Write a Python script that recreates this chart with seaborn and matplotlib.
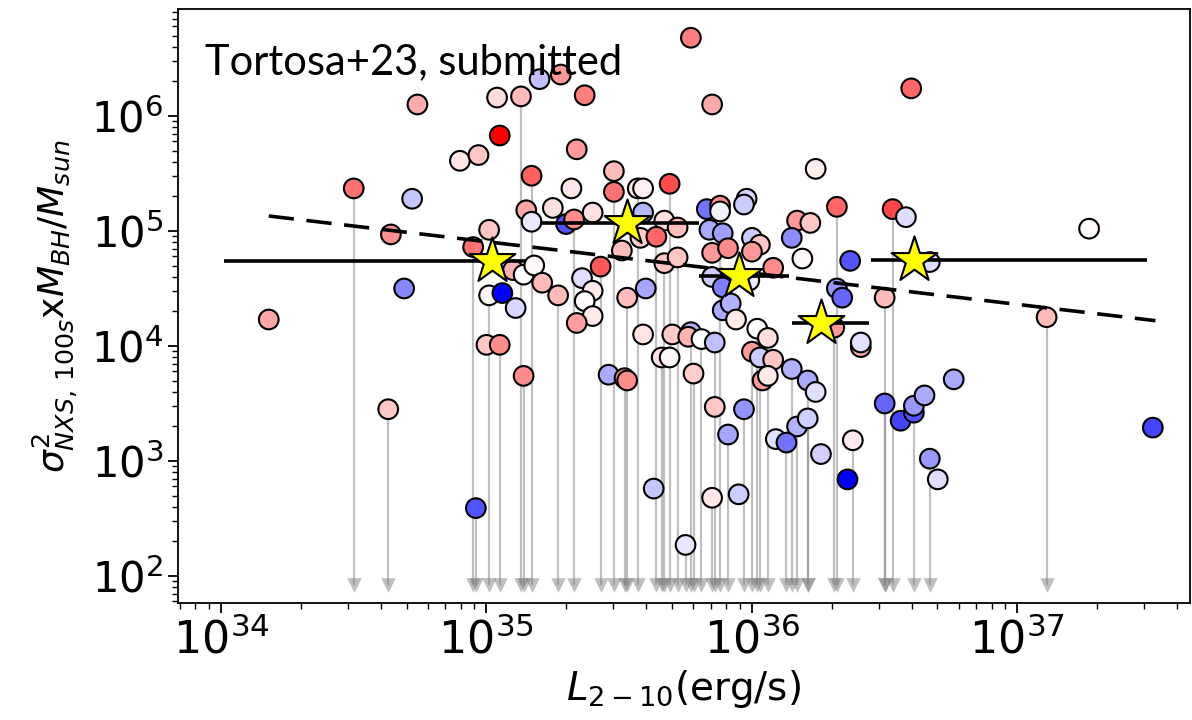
import numpy as np
import pandas as pd
import matplotlib
matplotlib.use("Agg")
import matplotlib.pyplot as plt
import seaborn as sns

# ---- data (log10 values) ----
logL = [34.18, 34.50, 34.63, 34.72, 34.74, 34.69, 34.64, 34.90, 34.97, 35.04,
        35.05, 35.01, 34.95, 35.01, 35.06, 35.11, 34.96, 35.00, 35.05, 35.10,
        35.14, 35.18, 35.13, 35.17, 35.15, 35.17, 35.20, 35.28, 35.37, 35.34,
        35.25, 35.30, 35.33, 35.40, 35.32, 35.48, 35.48, 35.57, 35.59, 35.69,
        35.59, 35.67, 35.72, 35.21, 35.27, 35.36, 35.43, 35.40, 35.37, 35.40,
        35.34, 35.14, 35.51, 35.58, 35.64, 35.53, 35.60, 35.59, 35.67, 35.72,
        35.46, 35.52, 35.53, 35.66, 35.69, 35.70, 35.77, 35.76, 35.81, 35.86,
        35.78, 35.63, 35.75, 35.85, 35.95, 35.86, 35.91, 35.97, 35.77, 35.85,
        35.83, 35.88, 35.88, 35.98, 35.97, 35.84, 35.89, 36.00, 36.03, 36.00,
        35.85, 35.91, 36.08, 35.85, 35.99, 35.89, 35.89, 35.92, 35.94, 36.02,
        36.06, 36.00, 36.03, 36.08, 36.04, 36.06, 36.15, 36.21, 36.24, 36.17,
        36.21, 36.09, 36.13, 36.26, 36.38, 36.36, 36.24, 36.17, 36.22, 36.15,
        36.19, 36.32, 36.37, 36.32, 36.34, 36.31, 36.41, 36.41, 36.60, 36.53,
        36.58, 36.67, 36.50, 36.50, 36.56, 36.61, 36.61, 36.65, 36.76, 36.67,
        36.70, 37.11, 37.27, 37.51]
logS = [4.23, 5.37, 3.45, 5.28, 6.10, 4.50, 4.97, 5.61, 5.66, 6.16,
        5.83, 5.01, 4.86, 4.44, 4.46, 4.33, 2.59, 4.01, 4.01, 4.66,
        4.62, 4.70, 6.17, 5.48, 5.18, 5.08, 6.32, 6.36, 6.18, 5.71,
        5.20, 5.06, 5.10, 5.16, 5.37, 5.52, 5.34, 5.37, 5.37, 5.41,
        5.16, 5.09, 5.03, 4.55, 4.44, 4.59, 4.69, 4.48, 4.39, 4.26,
        4.20, 3.74, 4.83, 4.94, 4.95, 4.42, 4.50, 4.10, 4.72, 4.77,
        3.75, 3.72, 3.70, 3.90, 3.90, 4.10, 4.12, 4.08, 4.06, 4.03,
        3.76, 2.76, 2.27, 2.68, 2.71, 3.47, 3.23, 3.45, 6.68, 6.10,
        5.19, 5.22, 5.17, 5.28, 5.23, 5.01, 4.98, 4.94, 4.88, 4.82,
        4.81, 4.85, 4.68, 4.60, 4.57, 4.51, 4.31, 4.37, 4.23, 4.15,
        4.07, 3.95, 3.90, 3.88, 3.70, 3.74, 3.80, 3.70, 3.60, 3.30,
        3.37, 3.19, 3.16, 3.06, 3.18, 2.84, 5.54, 5.09, 5.07, 4.94,
        4.76, 5.21, 4.74, 4.50, 4.42, 4.16, 3.99, 4.03, 6.24, 5.19,
        5.12, 4.73, 4.42, 3.50, 3.35, 3.42, 3.48, 3.57, 3.71, 3.02,
        2.84, 4.25, 5.02, 3.29]
color_val = [0.35, 0.55, 0.22, -0.22, 0.33, -0.47, 0.43, 0.10, 0.22, 0.14,
             1.00, 0.22, 0.55, 0.03, -1.00, -0.15, -0.67, 0.22, 0.45, 0.30,
             0.00, 0.03, 0.27, 0.62, 0.35, -0.08, -0.25, 0.40, 0.50, 0.40,
             0.12, -0.67, 0.45, 0.12, 0.10, 0.27, 0.55, 0.10, 0.06, 0.70,
             -0.28, 0.12, 0.25, 0.27, 0.27, -0.13, 0.65, 0.08, 0.02, 0.08,
             0.38, 0.45, 0.25, 0.20, 0.60, 0.25, -0.35, 0.10, 0.22, 0.22,
             -0.33, 0.40, 0.45, 0.12, 0.03, 0.20, -0.30, 0.30, 0.00, -0.25,
             0.20, -0.22, -0.10, 0.10, -0.20, 0.22, -0.35, -0.42, 0.50, 0.33,
             -0.55, 0.45, -0.05, -0.15, -0.20, -0.33, -0.37, -0.20, 0.22, 0.40,
             0.40, 0.45, 0.45, -0.20, -0.08, -0.50, -0.33, -0.30, 0.08, 0.00,
             0.12, 0.40, -0.20, 0.22, 0.40, 0.08, -0.30, -0.33, -0.12, -0.30,
             -0.18, -0.12, -0.55, -0.18, 0.08, -1.00, 0.07, 0.40, 0.22, -0.45,
             0.03, 0.60, -0.67, -0.40, -0.60, 0.40, 0.30, -0.12, 0.60, 0.72,
             -0.13, -0.13, 0.27, -0.60, -0.73, -0.67, -0.40, -0.33, -0.33, -0.40,
             -0.13, 0.27, 0.02, -0.73]
is_limit = [0, 1, 1, 0, 0, 0, 0, 0, 0, 0,
            0, 0, 1, 1, 0, 0, 1, 0, 1, 0,
            0, 0, 1, 1, 0, 0, 0, 0, 0, 0,
            0, 0, 1, 0, 0, 0, 1, 1, 0, 1,
            0, 0, 0, 0, 1, 0, 1, 0, 0, 0,
            0, 1, 0, 0, 1, 1, 0, 0, 1, 1,
            0, 1, 0, 1, 0, 0, 1, 0, 1, 1,
            1, 0, 1, 1, 0, 0, 1, 1, 0, 0,
            0, 0, 1, 0, 0, 0, 0, 0, 0, 0,
            0, 0, 0, 0, 0, 0, 0, 0, 0, 1,
            1, 1, 1, 0, 0, 0, 1, 1, 0, 1,
            1, 0, 1, 0, 1, 0, 0, 0, 0, 0,
            0, 1, 0, 0, 0, 1, 0, 0, 0, 1,
            0, 0, 1, 1, 0, 1, 0, 0, 0, 1,
            0, 1, 0, 0]

# binned values (stars) and bin ranges
bin_logL = [35.02, 35.53, 35.95, 36.26, 36.61]
bin_logS = [4.74, 5.07, 4.61, 4.20, 4.75]
bin_lo = [34.01, 35.20, 35.80, 36.15, 36.45]
bin_hi = [35.15, 35.80, 36.14, 36.44, 37.49]

# linear fit in log-log space (end points)
fit_logL = [34.18, 37.52]
fit_logS = [5.13, 4.22]

LIMIT_FLOOR = 83.0

df = pd.DataFrame({
    "L": 10 ** np.array(logL),
    "S": 10 ** np.array(logS),
    "c": color_val,
    "lim": is_limit,
})

sns.set_style("ticks")
plt.rcParams.update({
    "axes.linewidth": 1.3,
    "axes.edgecolor": "black",
    "text.color": "black",
    "axes.labelcolor": "black",
    "xtick.color": "black",
    "ytick.color": "black",
})

fig = plt.figure(figsize=(11.92, 7.2), dpi=100)
ax = fig.add_axes([0.1493, 0.1625, 0.849, 0.825])
ax.set_xscale("log")
ax.set_yscale("log")

lim = df[df["lim"] == 1]
ax.vlines(lim["L"], LIMIT_FLOOR, lim["S"], color="gray", alpha=0.5, lw=1.6, zorder=1)
ax.scatter(lim["L"], np.full(len(lim), LIMIT_FLOOR), marker="v", s=110,
           color="gray", alpha=0.5, linewidths=0, zorder=1)

sns.scatterplot(data=df, x="L", y="S", hue="c", palette="bwr", hue_norm=(-1, 1),
                s=200, edgecolor="black", linewidth=1.5, legend=False, ax=ax, zorder=3)

ax.plot(10 ** np.array(fit_logL), 10 ** np.array(fit_logS), color="black",
        lw=2.6, dashes=(7, 3.5), zorder=4)
ax.hlines(10 ** np.array(bin_logS), 10 ** np.array(bin_lo), 10 ** np.array(bin_hi),
          color="black", lw=2.6, zorder=4)
ax.scatter(10 ** np.array(bin_logL), 10 ** np.array(bin_logS), marker="*", s=1200,
           color="yellow", edgecolor="black", linewidths=1.5, zorder=5)

ax.set_xlim(10 ** 33.838, 10 ** 37.65)
ax.set_ylim(10 ** 1.765, 10 ** 6.93)

ax.tick_params(axis="both", which="major", length=7, width=1.3, direction="out")
ax.tick_params(axis="both", which="minor", length=4, width=1.0, direction="out")

xfont = ["Liberation Sans Narrow", "DejaVu Sans"]
ax.tick_params(axis="x", labelsize=32)
ax.tick_params(axis="y", labelsize=30)
for lab in ax.get_xticklabels():
    lab.set_fontfamily(xfont)
for lab in ax.get_yticklabels():
    lab.set_fontfamily("DejaVu Sans")

ax.set_xlabel(r"$L_{2-10}$(erg/s)", fontsize=28, family=xfont, labelpad=4)
ax.set_ylabel(r"$\sigma^2_{NXS,\,100s}$x$M_{BH}/M_{sun}$", fontsize=26, labelpad=8)

ax.text(0.027, 0.911, "Tortosa+23, submitted", transform=ax.transAxes,
        fontsize=30, family="Lato", va="center", ha="left")

fig.savefig("out.png", dpi=100)
